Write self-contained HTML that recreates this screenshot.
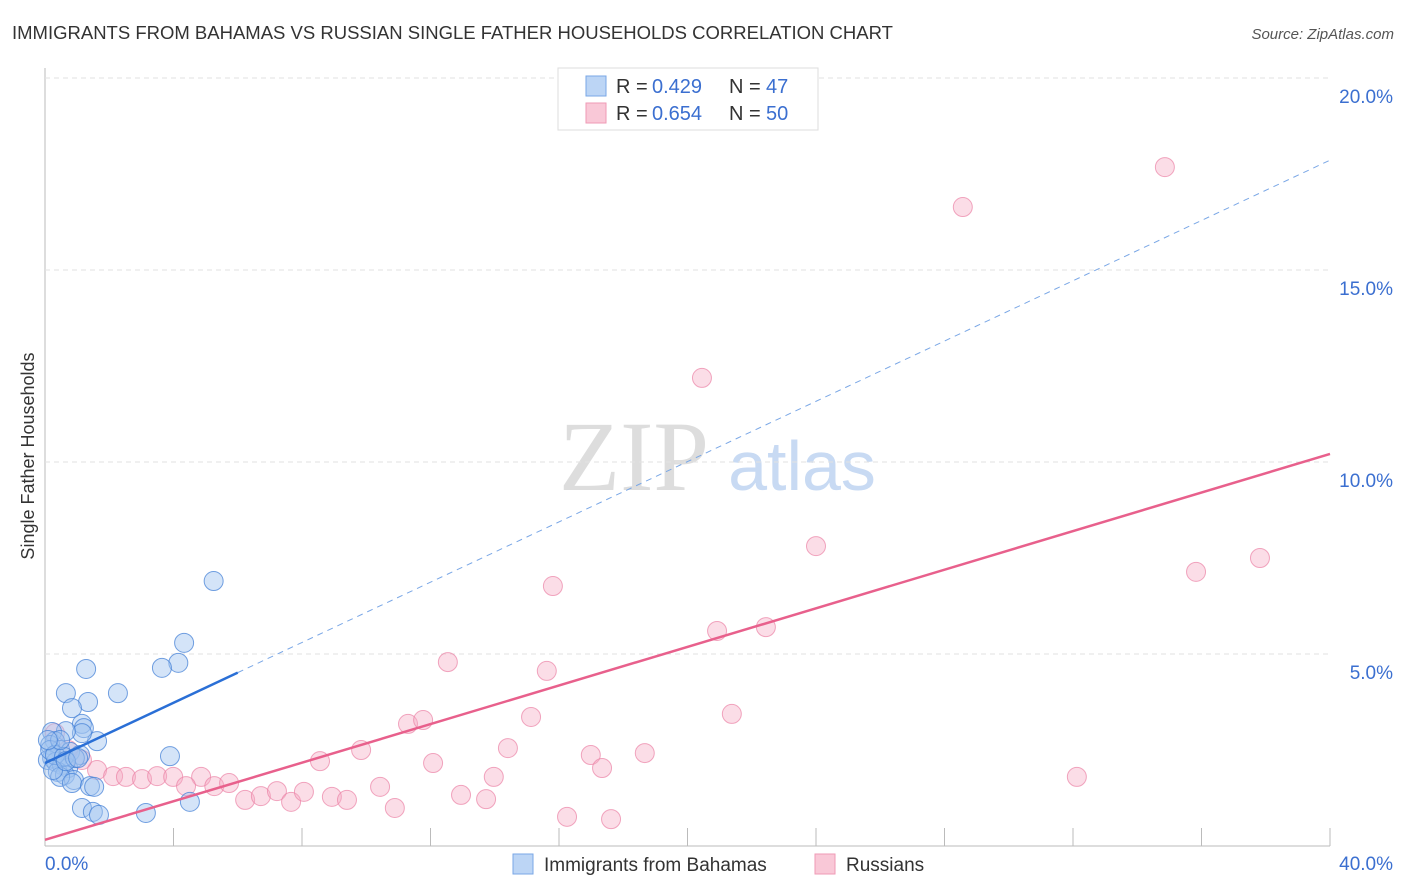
<!DOCTYPE html>
<html><head><meta charset="utf-8"><style>
body{margin:0;background:#fff;font-family:"Liberation Sans",sans-serif}
svg{display:block}
</style></head><body>
<svg id="c" width="1406" height="892">
<text x="12" y="39" font-size="18.5" fill="#333">IMMIGRANTS FROM BAHAMAS VS RUSSIAN SINGLE FATHER HOUSEHOLDS CORRELATION CHART</text>
<text x="1394" y="39" font-size="15" fill="#555" font-style="italic" text-anchor="end">Source: ZipAtlas.com</text>
<text x="34" y="456" font-size="18" fill="#333" text-anchor="middle" transform="rotate(-90 34 456)">Single Father Households</text>
<g><text x="634" y="490" font-size="100" fill="#ddd" font-family="Liberation Serif,serif" text-anchor="middle">ZIP</text><text x="802" y="490" font-size="70" fill="#c8daf3" text-anchor="middle">atlas</text></g>
<g id="grid"></g><g id="marks"></g>
<g>
<rect x="558" y="68" width="260" height="62" fill="#fff" stroke="#ddd"/>
<rect x="586" y="76" width="20" height="20" fill="#bcd5f5" stroke="#7aa7e6"/>
<text x="616" y="93" font-size="20" fill="#333">R =</text><text x="652" y="93" font-size="20" fill="#3b6fd0">0.429</text>
<text x="729" y="93" font-size="20" fill="#333">N =</text><text x="766" y="93" font-size="20" fill="#3b6fd0">47</text>
<rect x="586" y="103" width="20" height="20" fill="#f9c8d7" stroke="#ef9ab5"/>
<text x="616" y="120" font-size="20" fill="#333">R =</text><text x="652" y="120" font-size="20" fill="#3b6fd0">0.654</text>
<text x="729" y="120" font-size="20" fill="#333">N =</text><text x="766" y="120" font-size="20" fill="#3b6fd0">50</text>
</g>
<g>
<rect x="513" y="854" width="20" height="20" fill="#bcd5f5" stroke="#7aa7e6"/>
<text x="544" y="871" font-size="19" fill="#333">Immigrants from Bahamas</text>
<rect x="815" y="854" width="20" height="20" fill="#f9c8d7" stroke="#ef9ab5"/>
<text x="846" y="871" font-size="19" fill="#333">Russians</text>
</g>
</svg>
<script>
const xTicks=[0,40];
const yTicks=[5,10,15,20];
const bahamasX=[5.25,4.33,4.15,3.64,1.28,0.65,2.27,1.34,0.84,1.15,1.21,1.62,1.15,0.65,0.22,0.31,0.16,0.47,0.78,1.09,0.22,0.09,0.34,0.53,0.72,0.40,0.62,0.90,0.47,0.84,3.89,1.40,1.53,1.15,1.49,1.68,3.14,4.51,0.16,0.31,0.59,0.93,0.47,0.09,0.25,0.65,1.03];
const bahamasY=[6.90,5.29,4.77,4.64,4.61,3.98,3.98,3.75,3.59,3.18,3.07,2.73,2.94,2.99,2.97,2.73,2.63,2.50,2.45,2.37,2.29,2.24,2.19,2.11,2.03,1.93,1.85,1.72,1.80,1.64,2.34,1.56,1.54,0.99,0.89,0.81,0.86,1.15,2.50,2.37,2.32,2.29,2.76,2.76,1.98,2.21,2.29];
const russiansX=[34.86,28.57,20.45,24.00,15.81,35.83,37.82,20.92,22.44,12.54,15.62,21.38,15.13,11.30,11.77,9.84,14.41,18.67,16.99,8.56,12.08,17.34,13.97,32.12,1.62,2.12,2.52,3.02,3.49,3.99,4.86,5.27,5.73,4.39,6.23,6.72,7.22,7.66,8.06,8.93,9.40,10.43,12.95,13.73,10.89,16.25,17.62,0.31,0.72,1.15];
const russiansY=[17.68,16.64,12.19,7.81,6.77,7.14,7.50,5.60,5.70,4.79,4.56,3.44,3.36,3.18,3.28,2.50,2.55,2.42,2.37,2.21,2.16,2.03,1.80,1.80,1.98,1.82,1.80,1.74,1.82,1.80,1.80,1.56,1.64,1.56,1.20,1.30,1.43,1.15,1.41,1.28,1.20,1.54,1.33,1.22,0.99,0.76,0.70,2.94,2.50,2.24];
const bahamasTrend=[2.16,17.86], bahamasSolidEnd=6.0;
const russiansTrend=[0.16,10.21];
const NS='http://www.w3.org/2000/svg';
const X=v=>45+v/40*1285, Y=v=>846-v*38.4;
function mk(p,t,a){const e=document.createElementNS(NS,t);for(const k in a)e.setAttribute(k,a[k]);p.appendChild(e);return e;}
const g=document.getElementById('grid'), m=document.getElementById('marks');
let ax=mk(g,'line',{x1:45,y1:68,x2:45,y2:846,stroke:'#bbb'});

let bx=mk(g,'line',{x1:45,y1:846,x2:1330,y2:846,stroke:'#bbb'});

for(let i=1;i<=10;i++){const t=mk(g,'line',{x1:X(i*4),x2:X(i*4),y1:828,y2:846,stroke:'#bbb'});
}
yTicks.forEach(v=>{const l=mk(g,'line',{x1:45,x2:1330,y1:Y(v),y2:Y(v),stroke:'#e2e2e2','stroke-dasharray':'5,4'});

const t=mk(g,'text',{x:1393,y:Y(v)+25,'font-size':19,fill:'#3b6fd0','text-anchor':'end'});t.textContent=v.toFixed(1)+'%';
});
xTicks.forEach((v,i)=>{const t=mk(g,'text',{x:i?1393:45,y:870,'font-size':19,fill:'#3b6fd0','text-anchor':i?'end':'start'});t.textContent=v.toFixed(1)+'%';
});
russiansX.forEach((x,i)=>{const c=mk(m,'circle',{cx:X(x),cy:Y(russiansY[i]),r:9.5,fill:'rgba(245,170,195,0.4)',stroke:'rgba(235,130,165,0.7)'});
});
bahamasX.forEach((x,i)=>{const c=mk(m,'circle',{cx:X(x),cy:Y(bahamasY[i]),r:9.5,fill:'rgba(160,195,240,0.45)',stroke:'rgba(70,130,215,0.75)'});
});
const by=x=>bahamasTrend[0]+(bahamasTrend[1]-bahamasTrend[0])*x/40;
let l1=mk(m,'line',{x1:X(bahamasSolidEnd),y1:Y(by(bahamasSolidEnd)),x2:X(40),y2:Y(by(40)),stroke:'#7aa7e6','stroke-dasharray':'6,5'});

let l2=mk(m,'line',{x1:X(0),y1:Y(by(0)),x2:X(bahamasSolidEnd),y2:Y(by(bahamasSolidEnd)),stroke:'#2a6fd6','stroke-width':2.5});

let l3=mk(m,'line',{x1:X(0),y1:Y(russiansTrend[0]),x2:X(40),y2:Y(russiansTrend[1]),stroke:'#e8608c','stroke-width':2.5});

</script>
</body></html>
